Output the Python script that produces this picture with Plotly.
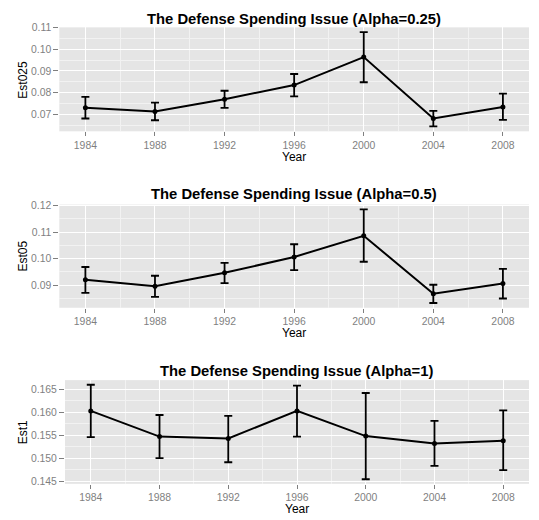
import plotly.graph_objects as go

years = [1984, 1988, 1992, 1996, 2000, 2004, 2008]

est025 = [0.0731, 0.0713, 0.0770, 0.0835, 0.0964, 0.0681, 0.0734]
est025_hi = [0.0781, 0.0754, 0.0809, 0.0886, 0.1079, 0.0716, 0.0796]
est025_lo = [0.0681, 0.0673, 0.0730, 0.0783, 0.0848, 0.0645, 0.0675]

est05 = [0.0920, 0.0895, 0.0946, 0.1006, 0.1086, 0.0867, 0.0906]
est05_hi = [0.0968, 0.0935, 0.0984, 0.1054, 0.1186, 0.0901, 0.0961]
est05_lo = [0.0870, 0.0855, 0.0907, 0.0956, 0.0988, 0.0832, 0.0849]

est1 = [0.1603, 0.1547, 0.1543, 0.1603, 0.1548, 0.1532, 0.1538]
est1_hi = [0.1660, 0.1594, 0.1592, 0.1658, 0.1642, 0.1581, 0.1604]
est1_lo = [0.1546, 0.1500, 0.1491, 0.1547, 0.1454, 0.1483, 0.1474]

titles = ["The Defense Spending Issue (Alpha=0.25)",
          "The Defense Spending Issue (Alpha=0.5)",
          "The Defense Spending Issue (Alpha=1)"]
ylabels = ["Est025", "Est05", "Est1"]
xlabel = "Year"

yticks025 = [0.07, 0.08, 0.09, 0.10, 0.11]
yticks05 = [0.09, 0.10, 0.11, 0.12]
yticks1 = [0.145, 0.150, 0.155, 0.160, 0.165]

W, H = 539, 520
FONT = "Liberation Sans, Arial, Helvetica, sans-serif"
GREY = "#7f7f7f"


def px_x(p):
    return p / W


def px_y(p):
    return 1 - p / H


def mids(v):
    return [(a + b) / 2 for a, b in zip(v[:-1], v[1:])]


panels = [
    dict(est=est025, hi=est025_hi, lo=est025_lo, ticks=yticks025, fmt="{:.2f}",
         x0=59.3, x1=529, y0=22.7, y1=128.3, yr=[0.0622, 0.1101],
         title_y=14.0, xlab_y=154.0),
    dict(est=est05, hi=est05_hi, lo=est05_lo, ticks=yticks05, fmt="{:.2f}",
         x0=59.3, x1=529, y0=202.7, y1=307.5, yr=[0.0814, 0.1204],
         title_y=191.5, xlab_y=333.2),
    dict(est=est1, hi=est1_hi, lo=est1_lo, ticks=yticks1, fmt="{:.3f}",
         x0=65, x1=529, y0=381, y1=486.3, yr=[0.1444, 0.1670],
         title_y=371.5, xlab_y=511.5),
]

fig = go.Figure()
annotations = []
layout_axes = {}

for i, p in enumerate(panels):
    n = i + 1
    xa = "x" if n == 1 else f"x{n}"
    ya = "y" if n == 1 else f"y{n}"
    fig.add_trace(go.Scatter(
        x=years, y=p["est"], xaxis=xa, yaxis=ya,
        mode="lines+markers",
        line=dict(color="black", width=2),
        marker=dict(color="black", size=5),
        error_y=dict(type="data", symmetric=False,
                     array=[h - e for h, e in zip(p["hi"], p["est"])],
                     arrayminus=[e - l for e, l in zip(p["est"], p["lo"])],
                     color="black", thickness=1.8, width=4),
        showlegend=False, hoverinfo="skip",
    ))
    step = p["ticks"][1] - p["ticks"][0]
    yminor = mids(p["ticks"]) + [p["ticks"][0] - step / 2, p["ticks"][-1] + step / 2]
    xkey = "xaxis" if n == 1 else f"xaxis{n}"
    ykey = "yaxis" if n == 1 else f"yaxis{n}"
    layout_axes[xkey] = dict(
        domain=[px_x(p["x0"]), px_x(p["x1"])], anchor=ya,
        range=[1982.5, 2009.5], tickmode="array", tickvals=years,
        ticktext=[str(y) for y in years],
        ticks="outside", ticklen=4, tickwidth=1, tickcolor=GREY,
        tickfont=dict(family=FONT, size=10.4, color=GREY),
        showgrid=True, gridcolor="white", gridwidth=1.1,
        minor=dict(tickmode="array", tickvals=mids(years), showgrid=True,
                   gridcolor="#f2f2f2", gridwidth=0.6, ticks=""),
        showline=False, zeroline=False, fixedrange=True,
    )
    layout_axes[ykey] = dict(
        domain=[px_y(p["y1"]), px_y(p["y0"])], anchor=xa,
        range=p["yr"], tickmode="array", tickvals=p["ticks"],
        ticktext=[p["fmt"].format(t) for t in p["ticks"]],
        ticks="outside", ticklen=5, tickwidth=1, tickcolor=GREY,
        tickfont=dict(family=FONT, size=10.4, color=GREY),
        showgrid=True, gridcolor="white", gridwidth=1.1,
        minor=dict(tickmode="array", tickvals=yminor,
                   showgrid=True, gridcolor="#f2f2f2", gridwidth=0.6, ticks=""),
        showline=False, zeroline=False, fixedrange=True,
    )
    cx = (p["x0"] + p["x1"]) / 2
    annotations.append(dict(
        text=f"<b>{titles[i]}</b>", x=px_x(cx), y=px_y(p["title_y"]),
        xref="paper", yref="paper", xanchor="center", yanchor="middle",
        showarrow=False, borderpad=0,
        font=dict(family=FONT, size=14.8, color="black")))
    annotations.append(dict(
        text=xlabel, x=px_x(cx), y=px_y(p["xlab_y"]),
        xref="paper", yref="paper", xanchor="center", yanchor="middle",
        showarrow=False, borderpad=0,
        font=dict(family=FONT, size=12, color="black")))
    annotations.append(dict(
        text=ylabels[i], x=px_x(23.3), y=px_y((p["y0"] + p["y1"]) / 2),
        xref="paper", yref="paper", xanchor="center", yanchor="middle",
        textangle=-90, showarrow=False, borderpad=0,
        font=dict(family=FONT, size=12, color="black")))

fig.update_layout(
    width=W, height=H, autosize=False,
    margin=dict(l=0, r=0, t=0, b=0),
    paper_bgcolor="white", plot_bgcolor="#e5e5e5",
    annotations=annotations,
    **layout_axes,
)

fig.write_html("out.html", config={"displayModeBar": False},
               post_script="document.body.style.margin='0';document.body.style.overflow='hidden';")
